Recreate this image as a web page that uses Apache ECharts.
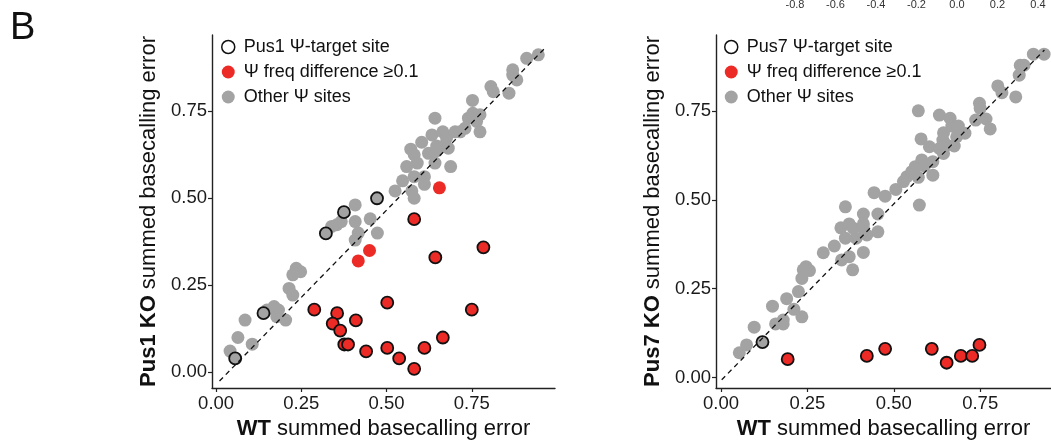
<!DOCTYPE html>
<html>
<head>
<meta charset="utf-8">
<script src="https://cdn.jsdelivr.net/npm/echarts@6/dist/echarts.min.js"></script>
<style>
  html, body { margin: 0; padding: 0; background: #fff; }
  #main { width: 1051px; height: 441px; }
</style>
</head>
<body>
<div id="main"></div>
<script>
// Pus1 KO vs WT (left panel)
var pus1OtherWT = [0.041,0.064,0.085,0.106,0.149,0.170,0.183,0.178,0.204,0.214,0.225,0.225,0.235,0.248,0.339,0.354,0.367,0.408,0.408,0.408,0.417,0.452,0.473,0.525,0.547,0.559,0.571,0.574,0.581,0.581,0.590,0.581,0.603,0.611,0.611,0.623,0.633,0.642,0.642,0.647,0.647,0.665,0.667,0.676,0.681,0.688,0.701,0.716,0.730,0.740,0.752,0.753,0.764,0.774,0.774,0.806,0.813,0.859,0.870,0.870,0.882,0.911,0.945];
var pus1OtherKO = [0.060,0.099,0.149,0.080,0.178,0.188,0.178,0.159,0.149,0.240,0.221,0.279,0.298,0.288,0.418,0.423,0.432,0.480,0.432,0.379,0.399,0.440,0.399,0.520,0.549,0.590,0.640,0.520,0.499,0.624,0.600,0.561,0.660,0.561,0.539,0.628,0.681,0.729,0.600,0.649,0.635,0.690,0.649,0.672,0.643,0.590,0.690,0.690,0.700,0.729,0.780,0.743,0.720,0.739,0.690,0.820,0.805,0.801,0.868,0.853,0.839,0.901,0.911];
var pus1TargetWT = [0.056,0.139,0.322,0.375,0.472];
var pus1TargetKO = [0.039,0.169,0.398,0.459,0.499];
var pus1DiffWT = [0.655,0.417,0.450];
var pus1DiffKO = [0.529,0.319,0.349];
var pus1TargetDiffWT = [0.581,0.784,0.643,0.288,0.355,0.342,0.410,0.364,0.502,0.376,0.387,0.440,0.502,0.537,0.581,0.611,0.665,0.750];
var pus1TargetDiffKO = [0.439,0.358,0.329,0.179,0.169,0.139,0.148,0.119,0.199,0.079,0.079,0.059,0.069,0.039,0.009,0.069,0.099,0.179];
var pus1Diag = [[0.010,-0.026],[0.962,0.928]];

// Pus7 KO vs WT (right panel)
var pus7OtherWT = [0.053,0.074,0.096,0.149,0.158,0.180,0.180,0.190,0.211,0.224,0.234,0.234,0.238,0.246,0.256,0.296,0.328,0.347,0.349,0.360,0.360,0.371,0.371,0.381,0.383,0.391,0.412,0.412,0.412,0.412,0.422,0.443,0.454,0.454,0.475,0.506,0.528,0.538,0.552,0.562,0.574,0.571,0.581,0.579,0.571,0.589,0.603,0.613,0.613,0.632,0.632,0.644,0.642,0.644,0.653,0.663,0.668,0.675,0.682,0.687,0.706,0.737,0.748,0.750,0.767,0.779,0.801,0.813,0.853,0.863,0.866,0.877,0.904,0.935];
var pus7OtherKO = [0.070,0.092,0.142,0.201,0.151,0.162,0.151,0.222,0.192,0.242,0.171,0.279,0.303,0.312,0.301,0.351,0.370,0.421,0.331,0.480,0.392,0.432,0.340,0.303,0.420,0.392,0.460,0.432,0.420,0.352,0.401,0.520,0.460,0.410,0.510,0.529,0.551,0.565,0.579,0.593,0.485,0.563,0.612,0.671,0.750,0.595,0.649,0.569,0.607,0.644,0.738,0.688,0.668,0.630,0.654,0.729,0.707,0.651,0.677,0.707,0.687,0.724,0.771,0.757,0.727,0.699,0.820,0.801,0.789,0.850,0.878,0.878,0.909,0.909];
var pus7TargetWT = [0.120];
var pus7TargetKO = [0.100];
var pus7TargetDiffWT = [0.193,0.422,0.475,0.610,0.653,0.694,0.727,0.748];
var pus7TargetDiffKO = [0.052,0.061,0.081,0.081,0.042,0.061,0.061,0.092];
var pus7Diag = [[0.002,-0.006],[0.936,0.921]];

var tickValues = [0, 0.25, 0.5, 0.75];

var FONT = '"Liberation Sans", Arial, sans-serif';
var GRAY = '#a3a3a3';
var RED = '#ec2a26';

function zip(xs, ys) { return xs.map(function (x, i) { return [x, ys[i]]; }); }

function titleStyle() {
  return { fontFamily: FONT, fontSize: 22, color: '#111',
    rich: { b: { fontFamily: FONT, fontSize: 22, fontWeight: 'bold', color: '#111' } } };
}
function xAxisFor(idx, min, max) {
  return {
    type: 'value', gridIndex: idx, min: min, max: max,
    name: '{b|WT} summed basecalling error', nameLocation: 'middle', nameGap: 29,
    nameTextStyle: titleStyle(),
    splitLine: { show: false },
    axisLine: { onZero: false, lineStyle: { color: '#222', width: 1.4 } },
    axisTick: { show: true, length: 4, lineStyle: { color: '#222', width: 1.2 }, customValues: tickValues },
    axisLabel: { customValues: tickValues, margin: 6, fontFamily: FONT, fontSize: 18.5, color: '#1a1a1a',
      formatter: function (v) { return v.toFixed(2); } }
  };
}
function yAxisFor(idx, min, max, who) {
  return {
    type: 'value', gridIndex: idx, min: min, max: max,
    name: '{b|' + who + ' KO} summed basecalling error', nameLocation: 'middle', nameGap: 52, nameRotate: 90,
    nameTextStyle: titleStyle(),
    splitLine: { show: false },
    axisLine: { onZero: false, lineStyle: { color: '#222', width: 1.4 } },
    axisTick: { show: true, length: 4, lineStyle: { color: '#222', width: 1.2 }, customValues: tickValues },
    axisLabel: { customValues: tickValues, margin: 5, fontFamily: FONT, fontSize: 18.5, color: '#1a1a1a',
      formatter: function (v) { return v.toFixed(2); } }
  };
}

function pts(name, idx, data, color, border, size, z) {
  return {
    name: name, type: 'scatter', xAxisIndex: idx, yAxisIndex: idx, data: data,
    symbol: 'circle', symbolSize: size, z: z, silent: true,
    itemStyle: { color: color, borderColor: border ? '#111' : color, borderWidth: border ? 1.8 : 0, opacity: 1 }
  };
}
function diag(idx, data) {
  return {
    type: 'line', xAxisIndex: idx, yAxisIndex: idx, data: data, symbol: 'none', z: 10, silent: true,
    lineStyle: { color: '#111', width: 1.3, type: [5, 4] }
  };
}
function legendFor(left, target) {
  return {
    orient: 'vertical', left: left, top: 38, padding: 0, itemWidth: 13, itemHeight: 13, itemGap: 7,
    selectedMode: false,
    textStyle: { fontFamily: FONT, fontSize: 18, color: '#111', padding: [0, 0, 0, 4] },
    data: [
      { name: target, icon: 'circle', itemStyle: { color: '#fff', borderColor: '#111', borderWidth: 1.5 } },
      { name: 'Ψ freq difference ≥0.1', icon: 'circle', itemStyle: { color: RED, borderWidth: 0 } },
      { name: 'Other Ψ sites', icon: 'circle', itemStyle: { color: GRAY, borderWidth: 0 } }
    ]
  };
}

var chart = echarts.init(document.getElementById('main'), null, { renderer: 'canvas' });
var option = {
  backgroundColor: '#fff',
  animation: false,
  textStyle: { fontFamily: FONT },
  grid: [
    { left: 212, top: 35, width: 343, height: 353, outerBoundsMode: 'none' },
    { left: 716, top: 35, width: 335, height: 353, outerBoundsMode: 'none' },
    { left: 795, top: -30, width: 243, height: 22, outerBoundsMode: 'none' }
  ],
  xAxis: [
    xAxisFor(0, -0.012, 0.994),
    xAxisFor(1, -0.0145, 0.955),
    // cut-off tick labels of the panel above
    { type: 'value', gridIndex: 2, min: -0.8, max: 0.4, interval: 0.2,
      axisLine: { show: false }, axisTick: { show: false }, splitLine: { show: false },
      axisLabel: { margin: 7, fontFamily: FONT, fontSize: 11, color: '#333',
        formatter: function (v) { return v.toFixed(1); } } }
  ],
  yAxis: [
    yAxisFor(0, -0.046, 0.968, 'Pus1'),
    yAxisFor(1, -0.029, 0.963, 'Pus7'),
    { type: 'value', gridIndex: 2, show: false }
  ],
  legend: [legendFor(221, 'Pus1 Ψ-target site'), legendFor(724, 'Pus7 Ψ-target site')],
  graphic: [
    { type: 'text', left: 10, top: 10, style: { text: 'B', fontFamily: FONT, fontSize: 38, fill: '#111' } }
  ],
  series: [
    pts('Other Ψ sites', 0, zip(pus1OtherWT, pus1OtherKO), GRAY, false, 13, 2),
    pts('Pus1 Ψ-target site', 0, zip(pus1TargetWT, pus1TargetKO), GRAY, true, 12, 3),
    pts('Ψ freq difference ≥0.1', 0, zip(pus1DiffWT, pus1DiffKO), RED, false, 13, 4),
    pts('Pus1 Ψ-target site', 0, zip(pus1TargetDiffWT, pus1TargetDiffKO), RED, true, 12, 5),
    diag(0, pus1Diag),
    pts('Other Ψ sites', 1, zip(pus7OtherWT, pus7OtherKO), GRAY, false, 13, 2),
    pts('Pus7 Ψ-target site', 1, zip(pus7TargetWT, pus7TargetKO), GRAY, true, 12, 3),
    pts('Pus7 Ψ-target site', 1, zip(pus7TargetDiffWT, pus7TargetDiffKO), RED, true, 12, 5),
    diag(1, pus7Diag)
  ]
};
chart.setOption(option);
</script>
</body>
</html>
